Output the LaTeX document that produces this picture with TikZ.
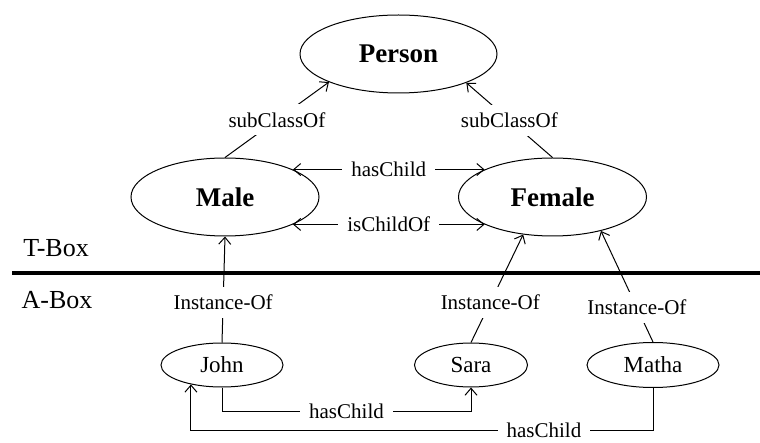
\documentclass[tikz,border=0pt]{standalone}
\usepackage{fontspec}
\setmainfont{Liberation Serif}
\usetikzlibrary{shapes.geometric,arrows.meta}
\begin{document}
\begin{tikzpicture}[x=1pt,y=-1pt,
  cls/.style={ellipse, draw, line width=1pt, inner sep=0pt,
    font=\fontsize{27}{30}\selectfont\bfseries,
    minimum width=188pt, minimum height=78pt},
  ind/.style={ellipse, draw, line width=1pt, inner sep=0pt,
    font=\fontsize{23}{26}\selectfont, minimum height=44pt},
  lab/.style={fill=white, inner xsep=9pt, inner ysep=8pt, font=\fontsize{21}{24}\selectfont},
  arr/.style={line width=1pt, -{Straight Barb[length=7pt,width=12pt]}},
  biarr/.style={line width=1pt, {Straight Barb[length=7pt,width=12pt]}-{Straight Barb[length=7pt,width=12pt]}},
  boxlab/.style={font=\fontsize{26}{30}\selectfont, inner sep=0pt}]
\useasboundingbox (0,0) rectangle (760,443);

% T-Box / A-Box separator
\coordinate (sepL) at (12,273);
\coordinate (sepR) at (760,273);
\draw[line width=3.5pt] (sepL) -- (sepR);
\node[boxlab] (tbox) at (56,248) {T-Box};
\node[boxlab] (abox) at (57,300) {A-Box};

% classes
\node[cls, minimum width=197pt] (Person) at (398.5,54) {Person};
\node[cls] (Male) at (225,197) {Male};
\node[cls] (Female) at (552.5,197) {Female};

% individuals
\node[ind, minimum width=122pt] (John) at (222,365) {John};
\node[ind, minimum width=113pt] (Sara) at (471,365) {Sara};
\node[ind, minimum width=132pt, minimum height=45pt] (Matha) at (653,365) {Matha};

% class hierarchy
\draw[arr] (Male.north) -- node[lab] {subClassOf} (Person.202);
\draw[arr] (Female.north) -- node[lab] {subClassOf} (Person.337);

% properties between classes
\draw[biarr] (Male.22) -- node[lab] {hasChild} (Female.158);
\draw[biarr] (Male.-22) -- node[lab] {isChildOf} (Female.202);

% instance links
\draw[arr] (John.north) -- node[lab, pos=0.38] {Instance-Of} (Male.south);
\draw[arr] (Sara.north) -- node[lab, pos=0.37] {Instance-Of} (Female.232);
\draw[arr] (Matha.north) -- node[lab, pos=0.31] {Instance-Of} (Female.325);

% properties between individuals
\draw[arr] (John.south) -- ++(0,24) -| node[lab, pos=0.25] {hasChild} (Sara.south);
\draw[arr] (Matha.south) -- ++(0,42) -| node[lab, pos=0.118, inner ysep=0pt] {hasChild} (John.212);
\end{tikzpicture}
\end{document}
